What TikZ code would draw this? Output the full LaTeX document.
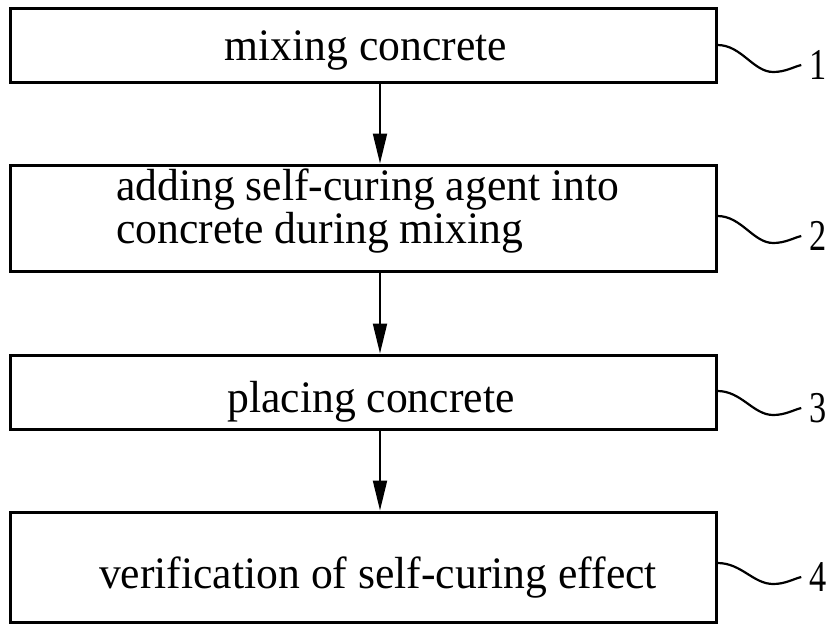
\documentclass[tikz,border=0pt]{standalone}
\usepackage{fontspec}
\setmainfont[FakeStretch=0.97]{Liberation Serif}
\newfontfamily\numfont[FakeStretch=0.78]{Liberation Serif}
\usetikzlibrary{arrows.meta,calc}
\begin{document}
\begin{tikzpicture}[x=1pt,y=-1pt,
  box/.style={draw,line width=3pt,minimum width=706pt,inner sep=0pt},
  txt/.style={font=\fontsize{45}{43}\selectfont,inner sep=0pt,align=left},
  num/.style={font=\numfont\fontsize{44}{46}\selectfont,inner sep=0pt},
  arr/.style={line width=2pt,-{Triangle[length=30pt,width=14pt]}},
  lead/.style={line width=2.2pt}]
\useasboundingbox (0,0) rectangle (831,625);
\node[box,minimum height=74pt]  (b1) at (363,45) {};
\node[box,minimum height=106pt] (b2) at (363,218) {};
\node[box,minimum height=74pt]  (b3) at (363,392) {};
\node[box,minimum height=110pt] (b4) at (363,567) {};
\node[txt,anchor=base] (t1) at (366,60) {mixing concrete};
\node[txt,anchor=base west] (t2) at (116,243) {adding self-curing agent into\\concrete during mixing};
\node[txt,anchor=base] (t3) at (371,412) {placing concrete};
\node[txt,anchor=base] (t4) at (378,588) {verification of self-curing effect};
\coordinate (ax) at (380,0);
\draw[arr] (b1.south -| ax) -- (b2.north -| ax);
\draw[arr] (b2.south -| ax) -- (b3.north -| ax);
\draw[arr] (b3.south -| ax) -- (b4.north -| ax);
\node[num] (n1) at (818,65) {1};
\node[num] (n2) at (818,236) {2};
\node[num] (n3) at (818,408) {3};
\node[num] (n4) at (818,577) {4};
\foreach \i/\s in {1/45,2/216,3/391,4/563}{
  \draw[lead] (b\i.east |- 0,\s) .. controls ++(24,0) and ++(-20,0) .. ($(n\i.west)+(-36,7)$)
    .. controls ++(12,0) and ++(-8,2) .. ($(n\i.west)+(-8,0)$);
}
\end{tikzpicture}
\end{document}
